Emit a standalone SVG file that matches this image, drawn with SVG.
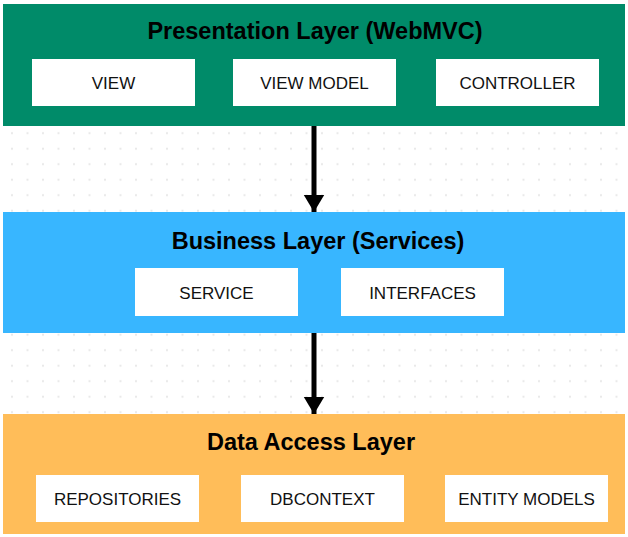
<svg xmlns="http://www.w3.org/2000/svg" width="628" height="537" viewBox="0 0 628 537">
  <defs>
    <pattern id="dots" x="4.25" y="125.5" width="15.5" height="15.5" patternUnits="userSpaceOnUse">
      <circle cx="7.75" cy="7.75" r="1.1" fill="#e8e8e8"/>
    </pattern>
    <marker id="arrow" viewBox="0 0 10 12" refX="10" refY="6" markerWidth="3.4" markerHeight="4.4" markerUnits="strokeWidth" orient="auto">
      <path d="M0,0 L10,6 L0,12 Z" fill="#000"/>
    </marker>
    <style>
      .title { font-family: "Liberation Sans", Arial, sans-serif; font-weight: bold; font-size: 23.5px; fill: #000; text-anchor: middle; }
      .label { font-family: "Liberation Sans", Arial, sans-serif; font-size: 17px; fill: #111; text-anchor: middle; }
      .box { fill: #fff; }
      .conn { stroke: #000; stroke-width: 5; fill: none; }
    </style>
  </defs>
  <rect width="628" height="537" fill="#fff"/>
  <rect x="4" y="126" width="618" height="86" fill="url(#dots)"/>
  <rect x="4" y="333" width="618" height="81" fill="url(#dots)"/>

  <g id="presentation-layer">
    <rect x="3" y="4" width="622" height="122" fill="#008b69"/>
    <text class="title" x="315" y="39">Presentation Layer (WebMVC)</text>
  </g>
  <g id="view">
    <rect class="box" x="32" y="59" width="163" height="47"/>
    <text class="label" x="113.5" y="89">VIEW</text>
  </g>
  <g id="view-model">
    <rect class="box" x="233" y="59" width="163" height="47"/>
    <text class="label" x="314.5" y="89">VIEW MODEL</text>
  </g>
  <g id="controller">
    <rect class="box" x="436" y="59" width="163" height="47"/>
    <text class="label" x="517.5" y="89">CONTROLLER</text>
  </g>

  <g id="business-layer">
    <rect x="3" y="212" width="622" height="121" fill="#38b6ff"/>
    <text class="title" x="318" y="249">Business Layer (Services)</text>
  </g>
  <g id="service">
    <rect class="box" x="135" y="268" width="163" height="48"/>
    <text class="label" x="216.5" y="299">SERVICE</text>
  </g>
  <g id="interfaces">
    <rect class="box" x="341" y="268" width="163" height="48"/>
    <text class="label" x="422.5" y="299">INTERFACES</text>
  </g>

  <g id="data-access-layer">
    <rect x="3" y="414" width="622" height="120" fill="#ffbd59"/>
    <text class="title" x="311" y="450">Data Access Layer</text>
  </g>
  <g id="repositories">
    <rect class="box" x="36" y="475" width="163" height="47"/>
    <text class="label" x="117.5" y="505">REPOSITORIES</text>
  </g>
  <g id="dbcontext">
    <rect class="box" x="241" y="475" width="163" height="47"/>
    <text class="label" x="322.5" y="505">DBCONTEXT</text>
  </g>
  <g id="entity-models">
    <rect class="box" x="445" y="475" width="163" height="47"/>
    <text class="label" x="526.5" y="505">ENTITY MODELS</text>
  </g>

  <g id="connectors">
    <line class="conn" x1="314" y1="126" x2="314" y2="212" marker-end="url(#arrow)"/>
    <line class="conn" x1="314" y1="333" x2="314" y2="414" marker-end="url(#arrow)"/>
  </g>
</svg>
